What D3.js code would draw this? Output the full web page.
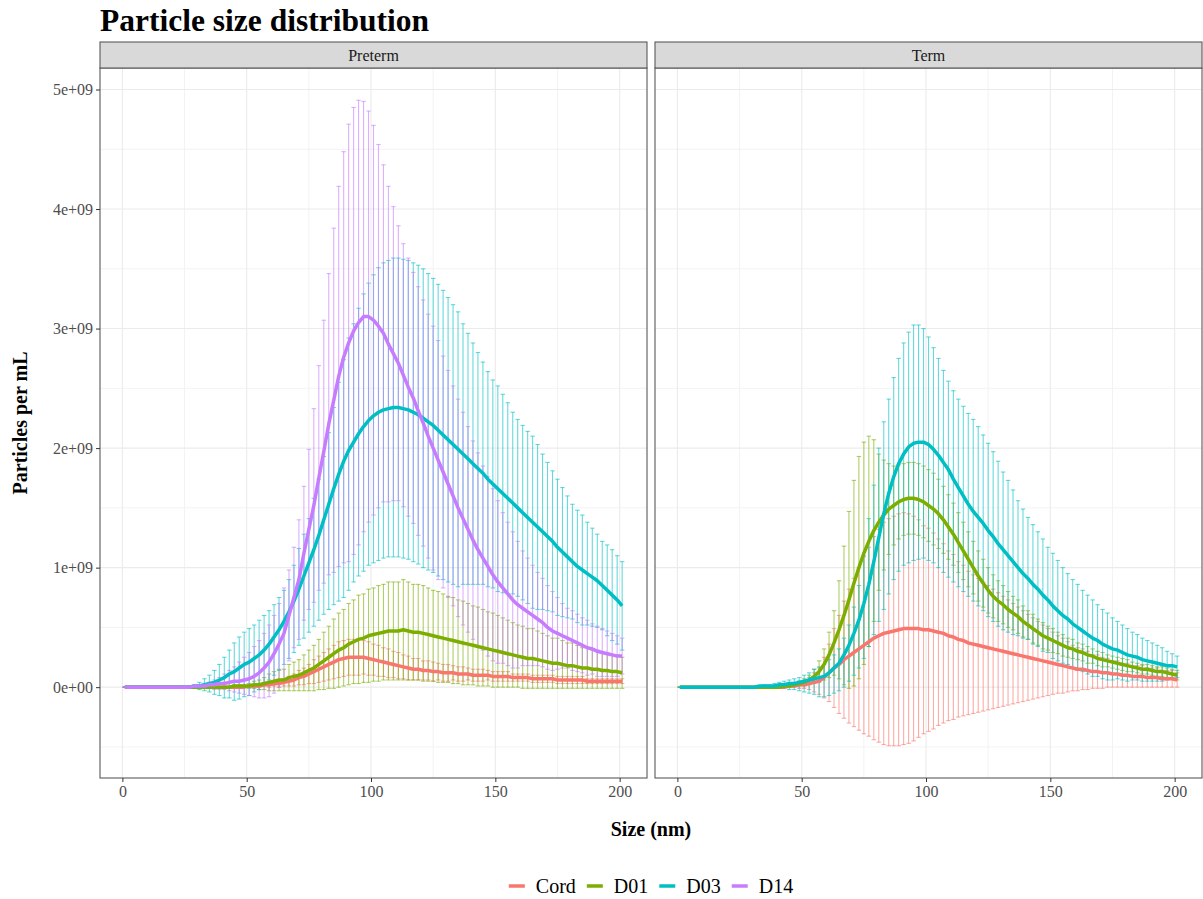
<!DOCTYPE html>
<html>
<head>
<meta charset="utf-8">
<script src="https://cdn.jsdelivr.net/npm/d3@7/dist/d3.min.js"></script>
<style>
body { margin: 0; background: #fff; }
svg { font-family: 'Liberation Serif', 'Times New Roman', serif; }
</style>
</head>
<body>
<svg width="1203" height="899"></svg>
<script>
// particle size (nm), one error bar every 2 nm
let sizes = [1,3,5,7,9,11,13,15,17,19,21,23,25,27,29,31,33,35,37,39,41,43,45,47,49,51,53,55,57,59,
	61,63,65,67,69,71,73,75,77,79,81,83,85,87,89,91,93,95,97,99,101,103,105,107,109,111,113,115,117,119,
	121,123,125,127,129,131,133,135,137,139,141,143,145,147,149,151,153,155,157,159,161,163,165,167,169,171,173,175,177,179,
	181,183,185,187,189,191,193,195,197,199,201];

// all values below in units of 1e7 particles per mL
let pretermCordMean = [0,0,0,0,0,0,0,0,0,0, 0,0,0,0,0,0,0,0,0,0, 0,0,0,0,0,1,1,1,2,2, 3,3,4,5,6,8,9,11,13,15,
	17,19,21,23,24,25,25,25,25,24, 23,22,21,20,19,18,17,16,15,15, 14,14,13,13,12,12,12,11,11,11,
	10,10,10,10,9,9,9,9,8,8, 8,8,7,7,7,7,7,6,6,6, 6,6,6,5,5,5,5,5,5,5, 5];
let pretermCordLo = [0,0,0,0,0,0,0,0,0,0, 0,0,0,0,0,0,0,0,0,0, 0,0,0,0,0,1,0,0,1,0, 1,0,1,1,1,2,2,3,3,4,
	5,6,7,8,9,10,10,10,11,10, 10,9,9,8,8,7,7,6,6,6, 6,6,5,6,5,5,6,5,5,6,
	5,5,5,6,5,5,5,5,5,5, 5,5,4,4,4,4,4,3,3,3, 3,3,3,3,3,3,3,3,3,3, 3];
let pretermCordHi = [0,0,0,0,0,0,0,0,0,0, 0,0,0,0,0,0,0,0,0,0, 0,0,0,0,0,1,2,2,3,4, 5,6,7,9,11,14,16,19,23,26,
	29,32,35,38,39,40,40,40,39,38, 36,35,33,32,30,29,27,26,24,24, 22,22,21,20,19,19,18,17,17,16,
	15,15,15,14,13,13,13,13,11,11, 11,11,10,10,10,10,10,9,9,9, 9,9,9,7,7,7,7,7,7,7, 7];

let pretermD01Mean = [0,0,0,0,0,0,0,0,0,0, 0,0,0,0,0,0,0,0,0,0, 0,0,1,1,1,1,2,2,3,4, 5,6,6,8,9,10,12,14,16,19,
	22,25,28,31,33,36,38,40,41,43, 44,45,46,47,47,47,48,47,46,46, 45,44,43,42,41,40,39,38,37,36,
	35,34,33,32,31,30,29,28,27,26, 25,24,24,23,22,21,20,20,19,18, 18,17,16,16,15,15,14,14,13,13, 12];
let pretermD01Lo = [0,0,0,0,0,0,0,0,0,0, 0,0,0,0,0,0,0,0,0,0, 0,0,0,0,0,-1,-1,-2,-2,-3, -3,-3,-3,-3,-3,-3,-3,-3,-3,-2,
	-2,-1,-1,0,1,2,3,3,4,4, 5,5,6,6,6,6,6,6,6,6, 5,5,5,4,4,4,3,3,2,2,
	2,1,1,1,0,0,0,0,0,0, -1,-1,-1,-1,-1,-1,-1,-1,-1,-1, -1,-1,-1,-1,-1,-1,-1,-1,-1,-1, -1];
let pretermD01Hi = [0,0,0,0,0,0,0,0,0,0, 0,0,0,0,0,0,0,0,0,0, 0,0,2,2,2,3,5,6,8,11, 13,15,15,19,21,23,27,31,35,40,
	46,51,57,62,65,70,73,77,78,82, 83,85,86,88,88,88,90,88,86,86, 85,83,81,80,78,76,75,73,72,70,
	68,67,65,63,62,60,58,56,54,52, 51,49,49,47,45,43,41,41,39,37, 37,35,33,33,31,31,29,29,27,27, 25];

let pretermD03Mean = [0,0,0,0,0,0,0,0,0,0, 0,0,0,0,1,1,2,3,4,6, 8,11,13,16,19,21,24,27,31,36, 42,48,55,63,72,82,93,104,115,127,
	140,153,166,178,189,198,205,212,218,223, 227,230,232,233,234,234,233,232,230,228,
	225,222,219,215,211,207,203,199,195,191, 187,183,179,174,170,166,162,158,154,150,
	146,142,138,134,130,126,122,117,113,109, 105,101,98,95,92,89,85,81,77,73, 68];
let pretermD03Lo = [0,0,0,0,0,0,0,0,0,0, 0,0,0,-1,0,-2,-3,-4,-6,-7, -9,-9,-11,-10,-8,-7,-4,-2,2,6, 10,14,19,24,29,35,41,46,51,56,
	61,65,69,72,75,81,88,93,97,102, 104,106,108,109,109,109,108,107,105,103,
	100,98,96,93,90,88,86,84,86,86, 86,86,86,84,83,80,79,78,78,76,
	73,70,66,65,65,64,63,60,59,58, 57,54,52,52,51,50,48,43,39,36, 31];
let pretermD03Hi = [0,0,0,0,0,0,0,0,0,0, 0,0,0,1,2,4,7,10,14,19, 25,31,37,42,46,49,52,56,60,64, 69,75,81,90,102,116,128,141,158,174,
	193,213,234,255,274,292,304,317,329,338, 345,351,355,357,359,359,358,357,355,353,
	350,346,342,337,332,326,320,314,304,296, 288,280,272,264,257,252,245,238,230,224,
	219,214,210,203,195,188,181,174,167,160, 153,148,144,138,133,128,122,119,115,110, 105];

let pretermD14Mean = [0,0,0,0,0,0,0,0,0,0, 0,0,0,0,1,1,1,2,2,3, 3,4,5,5,6,7,9,12,16,21, 28,36,45,60,75,90,112,132,152,175,
	197,220,240,260,276,288,298,305,310,310, 307,302,296,287,279,271,261,251,242,231,
	221,210,200,190,180,170,160,150,141,132, 123,115,108,101,94,88,83,78,73,69,
	66,63,60,57,54,50,47,45,43,41, 39,37,35,33,32,30,29,28,27,26, 26];
let pretermD14Lo = [0,0,0,0,0,0,0,0,0,0, 0,0,0,0,0,0,-1,-1,-2,-2, -2,-3,-4,-5,-6,-7,-8,-9,-9,-8, -5,0,7,22,33,40,56,65,71,81,
	87,94,96,101,104,105,111,119,130,138, 144,150,155,155,156,156,151,143,137,127,
	118,108,98,90,83,75,68,59,52,46, 40,34,31,26,22,20,20,18,16,16,
	18,18,18,18,17,15,14,15,16,16, 14,13,12,10,11,9,9,9,9,9, 11];
let pretermD14Hi = [0,0,0,0,0,0,0,0,0,0, 0,0,0,1,1,2,3,4,6,8, 11,14,17,21,25,29,34,39,45,52, 60,70,83,98,117,140,168,199,233,269,
	307,346,384,419,448,471,485,491,490,482, 470,454,437,419,402,386,371,359,347,335,
	324,312,302,290,277,265,252,241,230,218, 206,196,185,176,166,156,146,138,130,122,
	114,108,102,96,91,85,80,75,70,66, 64,61,58,56,53,51,49,47,45,43, 41];

let termCordMean = [0,0,0,0,0,0,0,0,0,0, 0,0,0,0,0,0,0,0,0,0, 0,0,1,1,2,2,3,4,5,8, 12,16,19,23,26,29,32,35,38,41,
	43,45,46,47,48,49,49,49,49,48, 48,47,46,45,43,42,40,39,37,36, 35,34,33,32,31,30,29,28,27,26,
	25,24,23,22,21,20,19,18,17,16, 15,15,14,13,13,12,12,11,11,10, 10,9,9,9,8,8,8,7,7,7, 6];
let termCordLo = [0,0,0,0,0,0,0,0,0,0, 0,0,0,0,0,0,0,0,0,0, 0,0,0,0,-1,-1,-2,-4,-6,-9, -12,-17,-22,-26,-30,-33,-36,-39,-41,-44,
	-46,-48,-49,-49,-49,-48,-47,-45,-42,-39, -37,-35,-32,-30,-28,-27,-25,-24,-23,-22,
	-21,-20,-19,-18,-17,-16,-15,-14,-13,-12, -11,-10,-9,-8,-7,-6,-5,-5,-4,-3,
	-3,-2,-2,-1,-1,-1,0,0,0,0, 0,0,0,0,0,0,0,0,0,0, 0];
let termCordHi = [0,0,0,0,0,0,0,0,0,0, 0,0,0,0,0,0,0,0,0,0, 0,0,2,2,5,5,8,12,16,25, 36,49,60,72,82,91,100,109,117,126,
	132,138,141,143,145,146,145,143,140,135, 133,129,124,120,114,111,105,102,97,94,
	91,88,85,82,79,76,73,70,67,64, 61,58,55,52,49,46,43,41,38,35,
	33,32,30,27,27,25,24,22,22,20, 20,18,18,18,16,16,16,14,14,14, 12];

let termD01Mean = [0,0,0,0,0,0,0,0,0,0, 0,0,0,0,0,0,0,0,0,0, 0,1,1,2,3,4,6,9,13,19, 27,37,48,60,73,87,100,112,122,131,
	138,144,149,152,155,157,158,158,157,155, 152,149,145,140,134,128,121,114,107,100,
	93,87,81,76,72,69,65,62,59,55, 52,49,46,43,41,39,37,35,33,32,
	30,29,27,26,24,23,22,21,20,19, 18,17,16,15,15,14,13,13,12,11, 10];
let termD01Lo = [0,0,0,0,0,0,0,0,0,0, 0,0,0,0,0,0,0,0,0,0, 0,1,0,1,1,1,2,3,4,6, 8,10,7,2,-1,1,7,19,34,55,
	81,98,111,119,124,127,128,128,127,125, 122,119,116,112,107,102,96,90,84,78,
	72,67,62,58,55,53,50,48,45,42, 40,37,35,32,31,29,28,26,25,24,
	23,22,20,20,18,17,17,16,15,14, 13,13,12,11,11,10,9,9,8,7, 6];
let termD01Hi = [0,0,0,0,0,0,0,0,0,0, 0,0,0,0,0,0,0,0,0,0, 0,1,2,3,5,7,10,15,22,32, 46,64,89,118,147,173,193,205,210,207,
	195,190,187,185,186,187,188,188,187,185, 182,179,174,168,161,154,146,138,130,122,
	114,107,100,94,89,85,80,76,73,68, 64,61,57,54,51,49,46,44,41,40,
	37,36,34,32,30,29,27,26,25,24, 23,21,20,19,19,18,17,17,16,15, 14];

let termD03Mean = [0,0,0,0,0,0,0,0,0,0, 0,0,0,0,0,0,1,1,1,1, 2,2,3,3,4,5,6,7,8,9, 12,16,20,27,35,45,56,70,86,105,
	125,145,162,176,187,195,201,204,205,205, 203,199,194,188,182,174,167,160,153,147,
	142,137,131,126,120,115,110,105,100,95, 91,86,82,77,73,68,64,60,57,53,
	50,47,44,41,39,36,34,32,31,29, 27,26,25,23,22,21,20,19,18,18, 17];
let termD03Lo = [0,0,0,0,0,0,0,0,0,0, 0,0,0,0,0,0,0,0,0,-1, -1,-1,-2,-2,-3,-4,-5,-6,-8,-8, -7,-5,-3,0,5,10,16,24,34,44,
	55,65,78,90,97,102,104,106,107,108, 106,104,100,96,92,88,84,80,76,72,
	68,64,59,55,51,48,46,44,43,41, 40,36,34,30,29,24,22,20,19,16,
	14,13,11,9,9,7,6,6,7,6, 5,6,6,5,5,5,5,5,6,8, 8];
let termD03Hi = [0,0,0,0,0,0,0,0,0,0, 0,0,0,0,0,0,1,2,2,3, 4,5,6,7,8,10,12,15,17,19, 23,27,32,41,52,67,85,110,141,169,
	200,222,241,259,275,288,297,303,303,300, 293,284,275,265,256,248,241,235,229,224,
	218,211,204,197,189,180,173,165,156,149, 142,136,130,124,117,112,106,100,95,90,
	86,81,77,73,69,65,62,58,55,52, 49,46,44,41,39,37,35,33,30,28, 26];

let groups = ['Cord', 'D01', 'D03', 'D14'];
let colours = ['#F8766D', '#7CAE00', '#00BFC4', '#C77CFF'];
let panels = ['Preterm', 'Term'];
let xTicks = [0, 50, 100, 150, 200];
let xMinorTicks = [25, 75, 125, 175];
let yTicks = [0, 1e9, 2e9, 3e9, 4e9, 5e9];
let yTickLabels = ['0e+00', '1e+09', '2e+09', '3e+09', '4e+09', '5e+09'];
let yMinorTicks = [-5e8, 5e8, 1.5e9, 2.5e9, 3.5e9, 4.5e9];

let table = [
	{panel: 'Preterm', group: 'Cord', mean: pretermCordMean, lo: pretermCordLo, hi: pretermCordHi},
	{panel: 'Preterm', group: 'D01', mean: pretermD01Mean, lo: pretermD01Lo, hi: pretermD01Hi},
	{panel: 'Preterm', group: 'D03', mean: pretermD03Mean, lo: pretermD03Lo, hi: pretermD03Hi},
	{panel: 'Preterm', group: 'D14', mean: pretermD14Mean, lo: pretermD14Lo, hi: pretermD14Hi},
	{panel: 'Term', group: 'Cord', mean: termCordMean, lo: termCordLo, hi: termCordHi},
	{panel: 'Term', group: 'D01', mean: termD01Mean, lo: termD01Lo, hi: termD01Hi},
	{panel: 'Term', group: 'D03', mean: termD03Mean, lo: termD03Lo, hi: termD03Hi}
];

let unit = 1e7;
let svg = d3.select('svg');
let plotTop = 68;
let plotBottom = 778;
let stripTop = 42;
let panelLeft = [100, 655];
let panelWidth = 547;
let capHalf = 2.2;

let colourScale = d3.scaleOrdinal().domain(groups).range(colours);

// same y for both facets, 5% padding like ggplot
let yMin = d3.min(table, function(s) { return d3.min(s.lo); }) * unit;
let yMax = d3.max(table, function(s) { return d3.max(s.hi); }) * unit;
let yPad = (yMax - yMin) * 0.05;
let yScale = d3.scaleLinear().domain([yMin - yPad, yMax + yPad]).range([plotBottom, plotTop]);
let xPad = (d3.max(sizes) - d3.min(sizes)) * 0.05;

panels.forEach(function(panelName, p) {
	let x0 = panelLeft[p];
	let xScale = d3.scaleLinear()
		.domain([d3.min(sizes) - xPad, d3.max(sizes) + xPad])
		.range([x0, x0 + panelWidth]);
	let g = svg.append('g').attr('class', 'panel');

	g.append('rect').attr('x', x0).attr('y', plotTop).attr('width', panelWidth)
		.attr('height', plotBottom - plotTop).attr('fill', '#fff');

	// grid
	g.selectAll('.minor-x').data(xMinorTicks).enter().append('line')
		.attr('x1', function(d) { return xScale(d); }).attr('x2', function(d) { return xScale(d); })
		.attr('y1', plotTop).attr('y2', plotBottom)
		.attr('stroke', '#f3f3f3').attr('stroke-width', 1);
	g.selectAll('.minor-y').data(yMinorTicks).enter().append('line')
		.attr('x1', x0).attr('x2', x0 + panelWidth)
		.attr('y1', function(d) { return yScale(d); }).attr('y2', function(d) { return yScale(d); })
		.attr('stroke', '#f3f3f3').attr('stroke-width', 1);
	g.selectAll('.major-x').data(xTicks).enter().append('line')
		.attr('x1', function(d) { return xScale(d); }).attr('x2', function(d) { return xScale(d); })
		.attr('y1', plotTop).attr('y2', plotBottom)
		.attr('stroke', '#ebebeb').attr('stroke-width', 1.1);
	g.selectAll('.major-y').data(yTicks).enter().append('line')
		.attr('x1', x0).attr('x2', x0 + panelWidth)
		.attr('y1', function(d) { return yScale(d); }).attr('y2', function(d) { return yScale(d); })
		.attr('stroke', '#ebebeb').attr('stroke-width', 1.1);

	let rows = table.filter(function(s) { return s.panel === panelName; });

	// error bars, group by group
	rows.forEach(function(s) {
		let pts = sizes.map(function(x, i) {
			return {x: x, lo: s.lo[i] * unit, hi: s.hi[i] * unit};
		});
		let eb = g.append('g').attr('stroke', colourScale(s.group)).attr('stroke-opacity', 0.6).attr('stroke-width', 1.1);
		eb.selectAll('.bar').data(pts).enter().append('line')
			.attr('x1', function(d) { return xScale(d.x); }).attr('x2', function(d) { return xScale(d.x); })
			.attr('y1', function(d) { return yScale(d.lo); }).attr('y2', function(d) { return yScale(d.hi); });
		eb.selectAll('.cap-hi').data(pts).enter().append('line')
			.attr('x1', function(d) { return xScale(d.x) - capHalf; }).attr('x2', function(d) { return xScale(d.x) + capHalf; })
			.attr('y1', function(d) { return yScale(d.hi); }).attr('y2', function(d) { return yScale(d.hi); });
		eb.selectAll('.cap-lo').data(pts).enter().append('line')
			.attr('x1', function(d) { return xScale(d.x) - capHalf; }).attr('x2', function(d) { return xScale(d.x) + capHalf; })
			.attr('y1', function(d) { return yScale(d.lo); }).attr('y2', function(d) { return yScale(d.lo); });
	});

	let line = d3.line()
		.x(function(d, i) { return xScale(sizes[i]); })
		.y(function(d) { return yScale(d * unit); });
	rows.forEach(function(s) {
		g.append('path').datum(s.mean)
			.attr('d', line)
			.attr('fill', 'none')
			.attr('stroke', colourScale(s.group))
			.attr('stroke-width', 3.5)
			.attr('stroke-linejoin', 'round');
	});

	g.append('rect').attr('x', x0).attr('y', plotTop).attr('width', panelWidth)
		.attr('height', plotBottom - plotTop).attr('fill', 'none')
		.attr('stroke', '#595959').attr('stroke-width', 1.1);

	// facet strip
	g.append('rect').attr('x', x0).attr('y', stripTop).attr('width', panelWidth)
		.attr('height', plotTop - stripTop).attr('fill', '#d9d9d9')
		.attr('stroke', '#595959').attr('stroke-width', 1.1);
	g.append('text').attr('x', x0 + panelWidth / 2).attr('y', (stripTop + plotTop) / 2)
		.attr('dy', '0.35em').attr('text-anchor', 'middle')
		.attr('font-size', 16).attr('fill', '#1a1a1a')
		.text(panelName);

	// x axis
	let xAxis = svg.append('g').attr('class', 'x-axis')
		.attr('transform', 'translate(0,' + plotBottom + ')')
		.call(d3.axisBottom(xScale).tickValues(xTicks).tickSize(4).tickPadding(4));
	xAxis.select('.domain').remove();
	xAxis.selectAll('line').attr('stroke', '#333');
	xAxis.selectAll('text').attr('font-size', 16).attr('fill', '#4d4d4d')
		.attr('font-family', "'Liberation Serif', 'Times New Roman', serif");

	if (p === 0) {
		let yAxis = svg.append('g').attr('class', 'y-axis')
			.attr('transform', 'translate(' + x0 + ',0)')
			.call(d3.axisLeft(yScale).tickValues(yTicks).tickSize(4).tickPadding(3)
				.tickFormat(function(d, i) { return yTickLabels[i]; }));
		yAxis.select('.domain').remove();
		yAxis.selectAll('line').attr('stroke', '#333');
		yAxis.selectAll('text').attr('font-size', 16).attr('fill', '#4d4d4d')
			.attr('font-family', "'Liberation Serif', 'Times New Roman', serif");
	}
});

// titles
svg.append('text').attr('x', 100).attr('y', 31)
	.attr('font-size', 31.5).attr('font-weight', 'bold').attr('fill', '#000')
	.text('Particle size distribution');
svg.append('text').attr('x', (panelLeft[0] + panelLeft[1] + panelWidth) / 2).attr('y', 836)
	.attr('text-anchor', 'middle').attr('font-size', 20).attr('font-weight', 'bold')
	.text('Size (nm)');
svg.append('text')
	.attr('transform', 'translate(27,' + ((plotTop + plotBottom) / 2) + ') rotate(-90)')
	.attr('text-anchor', 'middle').attr('font-size', 20).attr('font-weight', 'bold')
	.text('Particles per mL');

// legend along the bottom
let legend = svg.append('g').attr('class', 'legend');
let keyW = 16, keyGap = 11, itemGap = 11;
let items = legend.selectAll('g').data(groups).enter().append('g');
items.append('line').attr('x1', 0).attr('x2', keyW).attr('y1', 0).attr('y2', 0)
	.attr('stroke', function(d) { return colourScale(d); }).attr('stroke-width', 3.5);
items.append('text').attr('x', keyW + keyGap).attr('dy', '0.35em')
	.attr('font-size', 20).attr('fill', '#000')
	.text(function(d) { return d; });
let offsets = [];
let pos = 0;
items.each(function() {
	offsets.push(pos);
	pos += keyW + keyGap + d3.select(this).select('text').node().getComputedTextLength() + itemGap;
});
let totalW = pos - itemGap;
let legendX = (panelLeft[0] + panelLeft[1] + panelWidth) / 2 - totalW / 2;
items.attr('transform', function(d, i) { return 'translate(' + (legendX + offsets[i]) + ',886)'; });
</script>
</body>
</html>
